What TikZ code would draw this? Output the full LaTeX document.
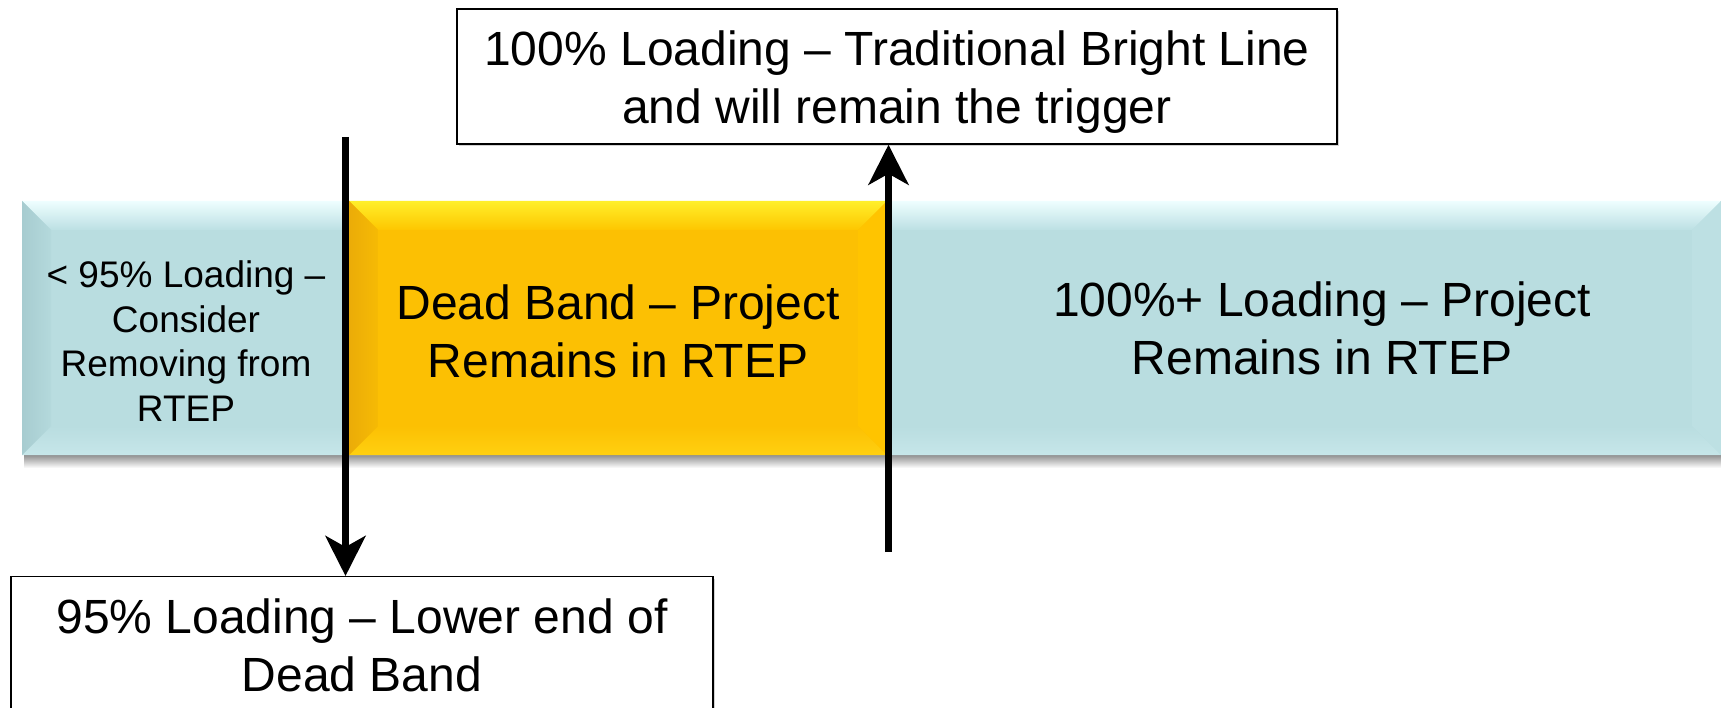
\documentclass[tikz,border=0pt]{standalone}
\usepackage{fontspec}
\setmainfont{Liberation Sans}
\usetikzlibrary{arrows.meta,shadows}
\definecolor{tlmain}{HTML}{B9DDE0}
\definecolor{tltop}{HTML}{EEFEFF}
\definecolor{tltopb}{HTML}{BCE0E3}
\definecolor{tlleftA}{HTML}{A7CCD0}
\definecolor{tlleftB}{HTML}{B4D9DC}
\definecolor{tlright}{HTML}{BDE0E3}
\definecolor{tlbot}{HTML}{C6E6E9}
\definecolor{ylmain}{HTML}{FCC003}
\definecolor{yltop}{HTML}{FFEF2A}
\definecolor{yltopb}{HTML}{FEC600}
\definecolor{ylleftA}{HTML}{EBAC08}
\definecolor{ylleftB}{HTML}{F6BA04}
\definecolor{ylright}{HTML}{FFC400}
\definecolor{ylbot}{HTML}{FFD010}
\newcommand\bevbox[6]{%
  \fill[#6main] (#1,#2) rectangle (#3,#4);
  \shade[top color=#6top, bottom color=#6topb]
    (#1,#2) -- (#3,#2) -- ({#3-#5},{#2+#5}) -- ({#1+#5},{#2+#5}) -- cycle;
  \shade[top color=#6main, bottom color=#6bot]
    (#1,#4) -- (#3,#4) -- ({#3-#5},{#4-#5}) -- ({#1+#5},{#4-#5}) -- cycle;
  \shade[left color=#6leftA, right color=#6leftB]
    (#1,#2) -- ({#1+#5},{#2+#5}) -- ({#1+#5},{#4-#5}) -- (#1,#4) -- cycle;
  \fill[#6right]
    (#3,#2) -- ({#3-#5},{#2+#5}) -- ({#3-#5},{#4-#5}) -- (#3,#4) -- cycle;
}
\begin{document}
\begin{tikzpicture}[x=1pt,y=-1pt,
  big/.style={font=\fontsize{48}{58}\selectfont, align=center},
  small/.style={font=\fontsize{37}{44.5}\selectfont, align=center},
  labelbox/.style={draw=black, line width=1.4pt, fill=white, inner sep=0pt,
    drop shadow={shadow xshift=2pt, shadow yshift=-2.5pt, opacity=0.35}},
  bigarrow/.style={line width=7pt, -{Stealth[length=40pt, width=40pt, inset=11pt]}}
]
\useasboundingbox (0,0) rectangle (1721,708);
\clip (0,0) rectangle (1721,708);
\fill[white] (0,0) rectangle (1721,708);
% band shadow
\shade[top color=black!50, bottom color=white] (24,453) rectangle (1721,468);
% band segments
\bevbox{22}{201}{430}{455}{29}{tl}
\bevbox{800}{201}{1721}{455}{29}{tl}
\bevbox{349}{201}{887}{455}{29}{yl}
% band texts
\node[small] (ltxt) at (186,341) {< 95\% Loading --\\Consider\\Removing from\\RTEP};
\node[big] (mtxt) at (618,331) {Dead Band -- Project\\Remains in RTEP};
\node[big] (rtxt) at (1322,328) {100\%+ Loading -- Project\\Remains in RTEP};
% label boxes
\node[labelbox, minimum width=880pt, minimum height=135pt] (topbox) at (897,76.5) {};
\node[big] (toptxt) at (897,82.5) {100\% Loading -- Traditional Bright Line\\and will remain the trigger};
\node[labelbox, minimum width=702pt, minimum height=138pt, anchor=north] (botbox) at (362,576) {};
\node[big] (bottxt) at (362,645) {95\% Loading -- Lower end of\\Dead Band};
% arrows
\coordinate (dtop) at (345.5,137);
\coordinate (ubot) at (888.5,552);
\draw[bigarrow] (dtop) -- (dtop |- botbox.north);
\draw[bigarrow] (ubot) -- (ubot |- topbox.south);
\end{tikzpicture}
\end{document}
